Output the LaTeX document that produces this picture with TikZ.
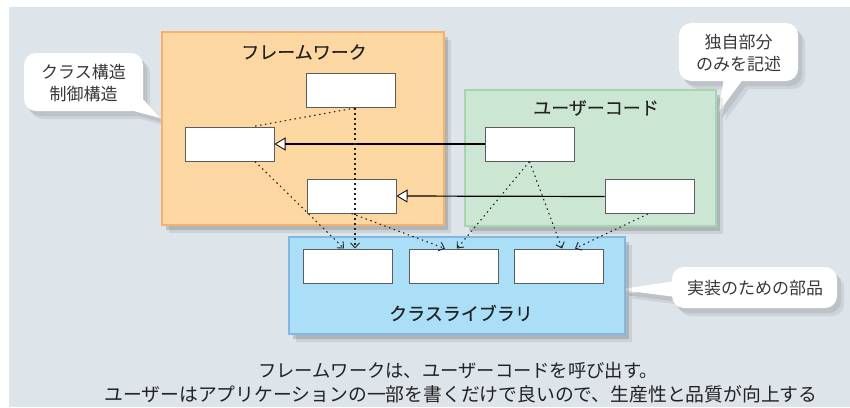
\documentclass[tikz,border=0pt]{standalone}
\usepackage{fontspec}
\newfontfamily\jp{Noto Sans CJK JP}
\newfontfamily\jpb{Noto Sans CJK JP}[FakeBold=0.25]
\usetikzlibrary{arrows.meta,shadows,calc}
\definecolor{bg}{HTML}{DDE4EA}
\definecolor{fwfill}{HTML}{FDD7A1}
\definecolor{fwline}{HTML}{F6B26C}
\definecolor{ucfill}{HTML}{CCE6D4}
\definecolor{ucline}{HTML}{A6D5AF}
\definecolor{clfill}{HTML}{ABDFF8}
\definecolor{clline}{HTML}{84B6E2}
\definecolor{boxline}{HTML}{5C5C5C}
\definecolor{txt}{HTML}{222222}
\definecolor{shA}{HTML}{CDD3D8}
\definecolor{shB}{HTML}{BCC2C7}
\newcommand\CalloutOne[1]{%
  \fill[#1,rounded corners=12pt] (24,53) rectangle (143,111);
  \fill[#1] (126,109) -- (160,118) -- (141,97) -- cycle;}
\newcommand\CalloutTwo[1]{%
  \fill[#1,rounded corners=12pt] (679,23) rectangle (798,81);
  \fill[#1] (724,78) -- (718,113) -- (744,78) -- cycle;}
\newcommand\CalloutThree[1]{%
  \fill[#1,rounded corners=12pt] (672,267) rectangle (837,308);
  \fill[#1] (676,281) -- (625,288.5) -- (625,290.5) -- (676,297) -- cycle;}
\begin{document}
\begin{tikzpicture}[x=1pt,y=-1pt,
  softshadow/.style={drop shadow={shadow xshift=7pt,shadow yshift=-8pt,opacity=.08,fill=black},
                     drop shadow={shadow xshift=4pt,shadow yshift=-5pt,opacity=.14,fill=black}},
  group/.style={draw, line width=1.2pt, inner sep=0pt, softshadow},
  cls/.style={draw=boxline, fill=white, line width=1pt, minimum width=89pt, minimum height=34pt, inner sep=0pt},
  title/.style={font=\jpb\fontsize{18}{20}\selectfont, text=txt, inner sep=0pt},
  note/.style={font=\jp\fontsize{17}{22}\selectfont, text=txt!90, align=center, inner sep=0pt},
  inh/.style={line width=1.2pt, black, -{Triangle[fill=white, line width=0.8pt, length=11pt, width=13pt]}},
  dep/.style={line width=1.1pt, txt, dash pattern=on 1.5pt off 3.5pt, -{Straight Barb[length=5pt,width=9pt,line width=0.9pt]}},
  dots/.style={line width=1.1pt, txt, dash pattern=on 1.5pt off 3.5pt}
]
\useasboundingbox (0,0) rectangle (850,407);
\fill[white] (0,0) rectangle (850,407);
\fill[bg] (9,7) rectangle (850,407);

% callouts (shadows, then white shapes)
\begin{scope}[shift={(7,8)}]
  \CalloutOne{shA}\CalloutTwo{shA}\CalloutThree{shA}
\end{scope}
\begin{scope}[shift={(4,5)}]
  \CalloutOne{shB}\CalloutTwo{shB}\CalloutThree{shB}
\end{scope}
\CalloutOne{white}\CalloutTwo{white}\CalloutThree{white}
\node[note] (n1) at (83.5,83) {クラス構造\\制御構造};
\node[note] (n2) at (738.5,53) {独自部分\\のみを記述};
\node[note] (n3) at (755,288.5) {実装のための部品};

% groups
\node[group, draw=fwline, fill=fwfill, minimum width=282pt, minimum height=193pt] (fw) at (303,128.5) {};
\node[group, draw=ucline, fill=ucfill, minimum width=251pt, minimum height=136pt] (uc) at (590.5,158) {};
\node[group, draw=clline, fill=clfill, minimum width=336pt, minimum height=97pt] (cl) at (457,285.5) {};
\node[title] (fwt) at (304,52) {フレームワーク};
\node[title] (uct) at (596,108) {ユーザーコード};
\node[title] (clt) at (461,313) {クラスライブラリ};

% classes
\node[cls] (f1) at (350.5,90.5) {};
\node[cls] (f2) at (229.5,144) {};
\node[cls] (f3) at (351.5,196) {};
\node[cls] (u1) at (529.5,144) {};
\node[cls] (u2) at (649.5,196.5) {};
\node[cls] (l1) at (348,266) {};
\node[cls] (l2) at (453.5,266) {};
\node[cls] (l3) at (558.5,266) {};

% inheritance
\draw[inh] (u1.west) -- (f2.east);
\draw[inh] (u2.west) -- (f3.east);

% dependencies
\draw[dots] ($(f1.south)+(4.5,0)$) -- ($(f2.north)+(23.5,0)$);
\draw[dep] ($(f1.south)+(4.5,0)$) -- ($(l1.north)+(7,0)$);
\draw[dep] ($(f2.south)+(25.5,0)$) -- ($(l1.north)+(-4,0)$);
\draw[dep] (f3.south) -- ($(l2.north)+(-8.5,0)$);
\draw[dep] (u1.south) -- ($(l2.north)+(3.5,0)$);
\draw[dep] (u1.south) -- ($(l3.north)+(3.5,0)$);
\draw[dep] ($(u2.south)+(-1.5,0)$) -- ($(l3.north)+(16.5,0)$);

% caption
\node[font=\jp\fontsize{18.3}{20}\selectfont, text=txt, inner sep=0pt] (s1) at (458,371) {フレームワークは、ユーザーコードを呼び出す。};
\node[font=\jp\fontsize{18.8}{21}\selectfont, text=txt, inner sep=0pt] (s2) at (461,394) {ユーザーはアプリケーションの一部を書くだけで良いので、生産性と品質が向上する};
\end{tikzpicture}
\end{document}
